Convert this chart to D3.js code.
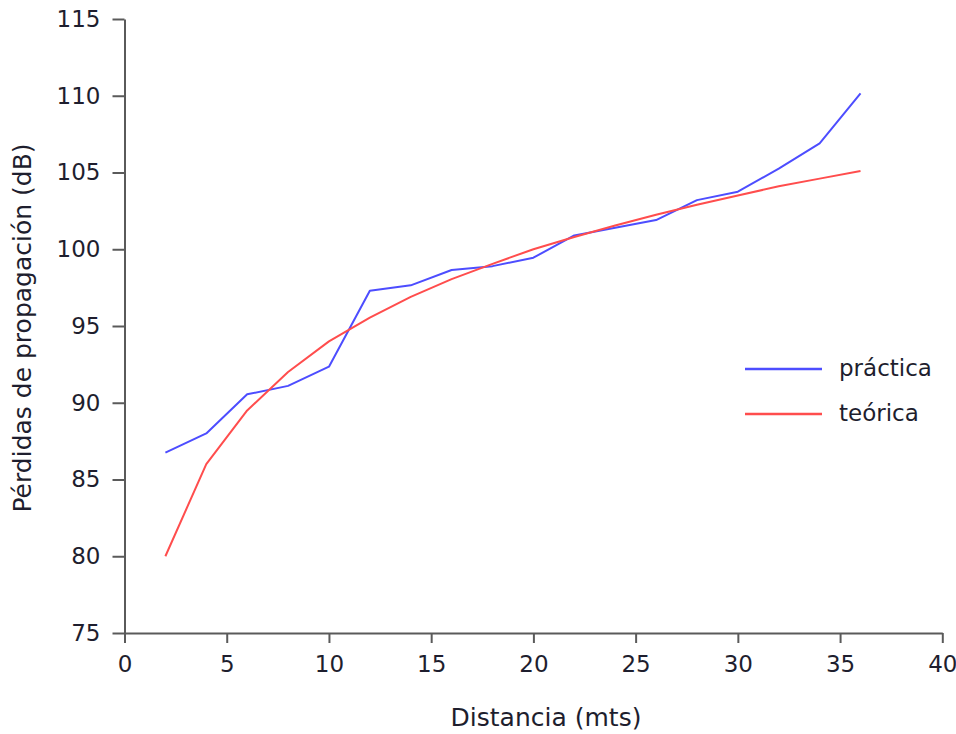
<!DOCTYPE html>
<html>
<head>
<meta charset="utf-8">
<script src="https://cdn.jsdelivr.net/npm/d3@7"></script>
<style>
  html, body { margin: 0; padding: 0; background: #fff; }
  svg { display: block; }
  text { font-family: "DejaVu Sans", "Open Sans", sans-serif; }
</style>
</head>
<body>
<svg id="chart" width="956" height="734"></svg>
<script>
// Data
const distancia = [2, 4, 6, 8, 10, 12, 14, 16, 18, 20, 22, 24, 26, 28, 30, 32, 34, 36];
const practica  = [86.75, 88.0, 90.55, 91.1, 92.35, 97.3, 97.65, 98.65, 98.9, 99.45, 100.9, 101.4, 101.9, 103.2, 103.75, 105.25, 106.9, 110.15];
const teorica   = [80.0, 86.0, 89.5, 92.0, 94.0, 95.55, 96.9, 98.05, 99.05, 100.0, 100.8, 101.55, 102.25, 102.9, 103.5, 104.1, 104.6, 105.1];
const xTicks = [0, 5, 10, 15, 20, 25, 30, 35, 40];
const yTicks = [75, 80, 85, 90, 95, 100, 105, 110, 115];
const seriesNames = ["práctica", "teórica"];
const seriesColors = ["#4d4dff", "#ff4d4d"];
const xTitle = "Distancia (mts)";
const yTitle = "Pérdidas de propagación (dB)";

(function () {
const svg = d3.select("#chart");
const mLeft = 124.5, mRight = 942.3, mTop = 19, mBottom = 633;
const font = "'DejaVu Sans', 'Open Sans', sans-serif";

const x = d3.scaleLinear().domain([0, 40]).range([mLeft, mRight]);
const y = d3.scaleLinear().domain([75, 115]).range([mBottom, mTop]);

const axisColor = "#5a5a5a";
const textColor = "#1e1e2e";

// X axis
const gx = svg.append("g").attr("transform", `translate(0,${mBottom})`)
  .call(d3.axisBottom(x).tickValues(xTicks).tickSize(10).tickPadding(13).tickSizeOuter(0));
// Y axis
const gy = svg.append("g").attr("transform", `translate(${mLeft},0)`)
  .call(d3.axisLeft(y).tickValues(yTicks).tickSize(12).tickPadding(12).tickSizeOuter(0));

[gx, gy].forEach(g => {
  g.select(".domain").attr("stroke", axisColor).attr("stroke-width", 2);
  g.selectAll(".tick line").attr("stroke", axisColor).attr("stroke-width", 2);
  g.selectAll(".tick text").attr("fill", textColor).attr("font-size", 23)
    .attr("font-family", font);
});

// Axis titles
svg.append("text").attr("x", 546).attr("y", 726)
  .attr("text-anchor", "middle").attr("fill", textColor).attr("font-size", 25)
  .attr("font-family", font)
  .text(xTitle);
svg.append("text")
  .attr("transform", `translate(31,${(148 + 508) / 2}) rotate(-90)`)
  .attr("text-anchor", "middle").attr("fill", textColor).attr("font-size", 25)
  .attr("font-family", font)
  .text(yTitle);

// Lines
const line = d3.line().x(d => x(d[0])).y(d => y(d[1]));
const seriesData = [practica, teorica];
seriesData.forEach((vals, i) => {
  svg.append("path")
    .datum(distancia.map((d, j) => [d, vals[j]]))
    .attr("fill", "none")
    .attr("stroke", seriesColors[i])
    .attr("stroke-width", 2)
    .attr("stroke-linejoin", "round")
    .attr("d", line);
});

// Legend
const legendY = [369, 414];
seriesNames.forEach((name, i) => {
  svg.append("line").attr("x1", 745).attr("x2", 822)
    .attr("y1", legendY[i]).attr("y2", legendY[i])
    .attr("stroke", seriesColors[i]).attr("stroke-width", 2.5);
  svg.append("text").attr("x", 839).attr("y", legendY[i])
    .attr("dy", "0.32em").attr("fill", textColor).attr("font-size", 23)
    .attr("font-family", font)
    .text(name);
});
})();
</script>
</body>
</html>
